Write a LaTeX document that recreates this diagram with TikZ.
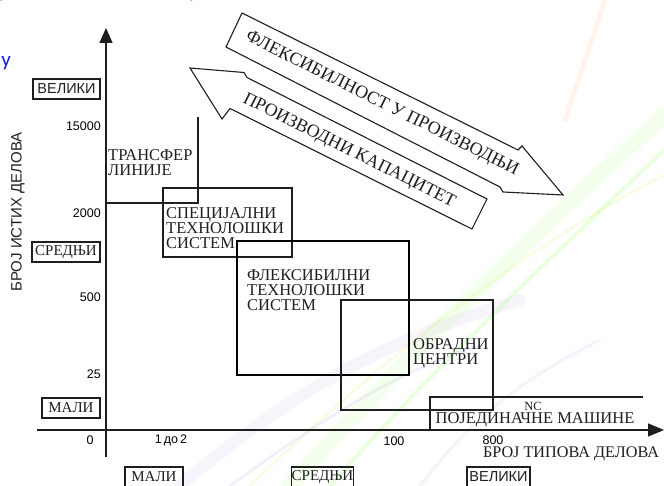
\documentclass[tikz,border=0pt]{standalone}
\usepackage{fontspec}
\setmainfont{Liberation Serif}
\setsansfont{Liberation Sans}
\newfontfamily\slidefont{Carlito}
\usetikzlibrary{arrows.meta}
\definecolor{slideblue}{RGB}{12,28,222}
\definecolor{ink}{RGB}{30,30,30}
\begin{document}
\begin{tikzpicture}[x=1pt,y=-1pt,
  lblbox/.style={draw=ink, line width=1.1pt, inner sep=0pt, minimum height=20pt, text=ink},
  lblserif/.style={lblbox, font=\fontsize{15}{15}\selectfont},
  lblsans/.style={lblbox, font=\sffamily\fontsize{14.5}{15}\selectfont},
  region/.style={draw=ink, line width=1.2pt},
  regionbold/.style={draw=black, line width=2.6pt},
  regtext/.style={inner sep=0pt, anchor=north west, align=left, text=ink, font=\fontsize{16.5}{15}\selectfont},
  ticklbl/.style={inner sep=0pt, text=black, font=\sffamily\fontsize{12.5}{12}\selectfont},
  axisline/.style={draw=ink, line width=1.3pt},
  bigarrow/.style={draw=ink, line width=1.1pt, line join=miter},
  arrowtext/.style={inner sep=0pt, text=ink, rotate=-26.57, font=\fontsize{18}{18}\selectfont},
  swoosh/.style={line cap=round},
  slidetext/.style={inner sep=0pt, text=slideblue, font=\slidefont\fontsize{21}{21}\selectfont},
]
\useasboundingbox (0,0) rectangle (664,486);
\clip (0,0) rectangle (664,486);
\fill[white] (0,0) rectangle (664,486);

% faint background swooshes
\draw[swoosh, line width=16pt, green!60!yellow, opacity=0.07] (290,486) .. controls (420,340) and (540,230) .. (664,115);
\draw[swoosh, line width=4pt, green!70!yellow, opacity=0.12] (330,486) .. controls (450,350) and (560,250) .. (664,150);
\draw[swoosh, line width=3pt, yellow!80!green, opacity=0.1] (250,486) .. controls (380,360) and (520,250) .. (664,175);
\draw[swoosh, line width=12pt, blue!40!violet, opacity=0.04] (180,486) .. controls (280,400) and (380,340) .. (520,300);
\draw[swoosh, line width=3pt, blue!50!violet, opacity=0.06] (230,486) .. controls (320,420) and (400,370) .. (480,345);
\draw[swoosh, line width=3pt, blue!40!violet, opacity=0.05] (420,486) .. controls (470,420) and (520,380) .. (600,340);
\draw[swoosh, line width=5pt, orange!80!red, opacity=0.07] (605,0) .. controls (592,40) and (580,75) .. (565,120);

% slide text fragments
\node[slidetext, anchor=base east] (su1) at (11,67) {у};
\node[slidetext, anchor=base west] (su0) at (-2,-2) {у};
\node[slidetext, anchor=base west] (sp0) at (189,-2) {р};
\node[slidetext, anchor=base west] (sc0) at (571,-2) {,};

% axes
\coordinate (yb) at (106,457);
\coordinate (yt) at (106,28);
\coordinate (xl) at (37,430);
\coordinate (xr) at (664,430);
\draw[axisline, -{Triangle[length=15pt,width=13pt]}] (yb) -- (yt);
\draw[axisline, -{Triangle[length=16pt,width=13pt]}] (xl) -- (xr);

% y tick labels
\node[ticklbl, anchor=east] (t15000) at (101,126) {15000};
\node[ticklbl, anchor=east] (t2000) at (101,213) {2000};
\node[ticklbl, anchor=east] (t500) at (101,297) {500};
\node[ticklbl, anchor=east] (t25) at (101,374) {25};
\node[ticklbl] (t0) at (90,440) {0};
% x tick labels
\node[ticklbl] (t12) at (171,440) {1\,до\,2};
\node[ticklbl] (t100) at (394,441) {100};
\node[ticklbl] (t800) at (493,440) {800};

% axis titles
\node[inner sep=0pt, text=ink, rotate=90, font=\sffamily\fontsize{15}{15}\selectfont] (ytitle) at (18,212) {БРОЈ ИСТИХ ДЕЛОВА};
\node[inner sep=0pt, text=ink, font=\fontsize{16.2}{15}\selectfont] (xtitle) at (571,454) {БРОЈ ТИПОВА ДЕЛОВА};

% level boxes
\node[lblsans, minimum width=67pt] (vl) at (66.5,89) {ВЕЛИКИ};
\node[lblserif, minimum width=68pt] (sl) at (66,252) {СРЕДЊИ};
\node[lblserif, minimum width=58pt] (ml) at (71,408) {МАЛИ};
\node[lblserif, minimum width=58pt] (mb) at (154,477) {МАЛИ};
\node[lblserif, minimum width=60pt] (sb) at (322.5,477) {СРЕДЊИ};
\node[lblsans, minimum width=63pt] (vb) at (498.5,477) {ВЕЛИКИ};

% transfer lines
\coordinate (trt) at (198,117);
\coordinate (trc) at (198,203);
\coordinate (trl) at (106,203);
\draw[region] (trt) -- (trc) -- (trl);
\node[regtext] (trtext) at (108,149) {ТРАНСФЕР\\ЛИНИЈЕ};

% special systems
\draw[region] (163,188) rectangle (292,257);
\node[regtext] (sptext) at (166,207) {СПЕЦИЈАЛНИ\\ТЕХНОЛОШКИ\\СИСТЕМ};

% flexible systems
\draw[regionbold] (237,241) rectangle (409,375);
\node[regtext] (fxtext) at (247,269) {ФЛЕКСИБИЛНИ\\ТЕХНОЛОШКИ\\СИСТЕМ};

% machining centres
\draw[region] (341,300) rectangle (493,410);
\node[regtext] (octext) at (413,338) {ОБРАДНИ\\ЦЕНТРИ};

% NC single machines
\coordinate (ncb) at (430,430);
\coordinate (nct) at (430,397);
\coordinate (ncr) at (643,397);
\draw[region] (ncb) -- (nct) -- (ncr);
\node[inner sep=0pt, text=ink, font=\fontsize{12.5}{12}\selectfont] (nctext) at (533,406) {NC};
\node[inner sep=0pt, text=ink, font=\fontsize{16.5}{15}\selectfont] (pmtext) at (535,420) {ПОЈЕДИНАЧНЕ МАШИНЕ};

% big arrow 1 (flexibility)
\coordinate (a1p1) at (242,13);
\coordinate (a1p2) at (518,150);
\coordinate (a1p3) at (522,146);
\coordinate (a1tip) at (563,195);
\coordinate (a1p5) at (503,192);
\coordinate (a1p6) at (500,187);
\coordinate (a1p7) at (226,47);
\draw[bigarrow] (a1p1) -- (a1p2) -- (a1p3) -- (a1tip) -- (a1p5) -- (a1p6) -- (a1p7) -- cycle;
\node[arrowtext] (a1text) at (382,104) {ФЛЕКСИБИЛНОСТ У ПРОИЗВОДЊИ};

% big arrow 2 (capacity)
\coordinate (a2tip) at (190,68);
\coordinate (a2p1) at (244,72.5);
\coordinate (a2p2) at (247,77.5);
\coordinate (a2p3) at (487,199);
\coordinate (a2p4) at (472,229);
\coordinate (a2p5) at (230,108.5);
\coordinate (a2p6) at (222,119);
\draw[bigarrow] (a2tip) -- (a2p1) -- (a2p2) -- (a2p3) -- (a2p4) -- (a2p5) -- (a2p6) -- cycle;
\node[arrowtext] (a2text) at (349,151) {ПРОИЗВОДНИ КАПАЦИТЕТ};
\end{tikzpicture}
\end{document}
